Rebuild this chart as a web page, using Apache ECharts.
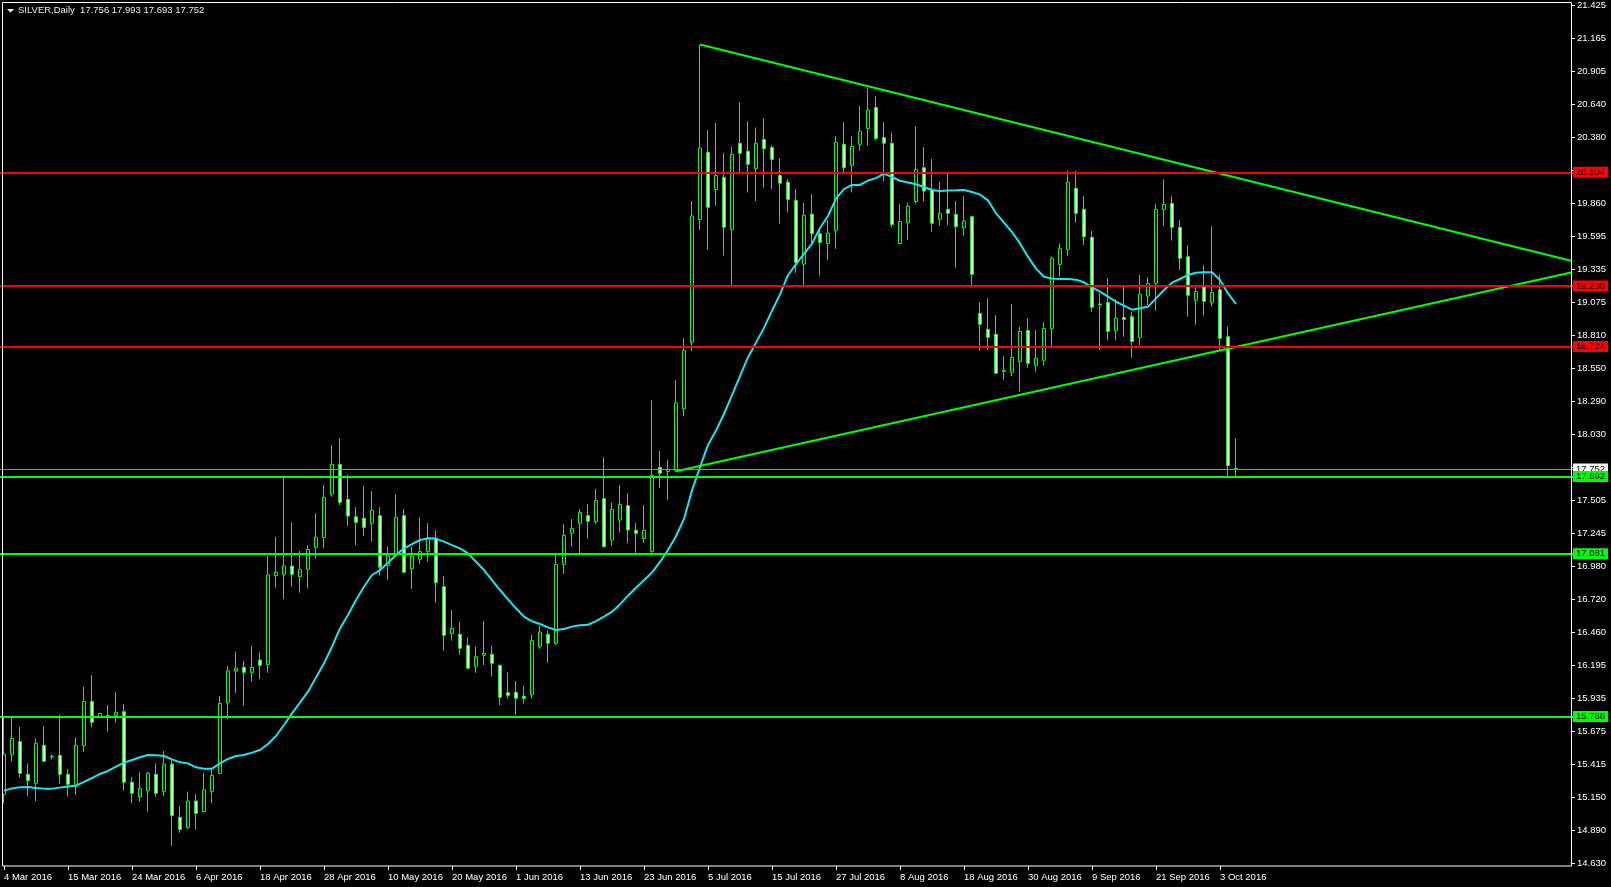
<!DOCTYPE html>
<html>
<head>
<meta charset="utf-8">
<script src="https://cdn.jsdelivr.net/npm/echarts@6/dist/echarts.min.js"></script>
<style>
html,body{margin:0;padding:0;background:#000;}
#chart{width:1611px;height:887px;}
</style>
</head>
<body>
<div id="chart"></div>
<script>
// ---- data (SILVER, Daily) ----
const dateLabels = ['4 Mar 2016','15 Mar 2016','24 Mar 2016','6 Apr 2016','18 Apr 2016','28 Apr 2016','10 May 2016','20 May 2016','1 Jun 2016','13 Jun 2016','23 Jun 2016','5 Jul 2016','15 Jul 2016','27 Jul 2016','8 Aug 2016','18 Aug 2016','30 Aug 2016','9 Sep 2016','21 Sep 2016','3 Oct 2016'];
const opens = [15.174,15.491,15.593,15.332,15.261,15.562,15.474,15.483,15.332,15.245,15.562,15.910,15.784,15.794,15.797,15.828,15.269,15.155,15.203,15.332,15.195,15.414,14.992,14.912,15.121,15.037,15.195,15.340,15.900,16.151,16.180,16.140,16.238,16.203,16.906,16.916,16.982,16.898,16.956,17.130,17.209,17.552,17.787,17.510,17.373,17.360,17.320,17.381,16.987,17.069,17.381,16.961,17.035,17.096,17.201,16.818,16.449,16.441,16.354,16.188,16.275,16.283,16.195,15.979,15.982,15.950,15.963,16.343,16.441,16.370,16.995,17.241,17.320,17.381,17.333,17.515,17.188,17.346,17.460,17.265,17.199,17.096,17.764,17.731,17.736,18.227,18.754,19.727,20.259,19.964,20.060,19.645,20.330,20.267,20.128,20.360,20.297,20.076,20.022,19.877,19.373,19.768,19.613,19.536,19.640,20.322,20.155,20.322,20.447,20.613,20.376,20.330,19.536,19.700,19.869,20.136,19.960,19.728,19.807,19.767,19.661,19.749,18.983,18.856,18.817,18.529,18.516,18.603,18.848,18.571,18.611,18.864,19.371,19.490,19.973,19.807,19.585,19.057,19.070,18.846,18.951,18.957,18.793,19.120,19.221,19.807,19.854,19.664,19.432,19.086,19.197,19.070,19.170,18.798,17.756];
const highs = [15.789,15.784,15.707,15.419,15.617,15.715,15.488,15.802,15.374,15.625,16.026,16.119,15.820,15.881,15.984,15.889,15.311,15.353,15.353,15.419,15.517,15.446,15.081,15.195,15.176,15.345,15.372,15.953,16.190,16.304,16.232,16.349,16.298,17.061,17.214,17.682,17.325,17.101,17.148,17.399,17.624,17.940,17.993,17.703,17.447,17.616,17.576,17.447,17.135,17.552,17.434,17.135,17.368,17.320,17.267,16.903,16.634,16.539,16.417,16.343,16.547,16.349,16.203,16.140,16.071,16.032,16.436,16.507,16.475,17.082,17.315,17.354,17.434,17.473,17.592,17.843,17.484,17.624,17.558,17.322,17.464,18.295,17.894,17.826,18.454,18.786,19.872,21.112,20.436,20.491,20.253,20.300,20.654,20.504,20.455,20.526,20.313,20.210,20.046,19.967,19.858,19.926,19.651,19.722,20.387,20.499,20.387,20.627,20.763,20.703,20.499,20.414,19.850,19.858,20.463,20.300,20.205,20.026,20.087,19.873,19.912,19.750,19.070,19.102,18.970,18.645,19.057,18.877,18.946,18.851,18.914,19.432,19.537,20.110,20.110,19.912,19.635,19.141,19.263,19.094,19.200,18.996,19.287,19.268,19.849,20.044,19.912,19.722,19.522,19.189,19.363,19.672,19.292,18.877,17.993];
const lows = [15.103,15.432,15.306,15.160,15.121,15.430,15.451,15.256,15.160,15.168,15.509,15.704,15.780,15.670,15.741,15.203,15.103,15.116,15.037,15.155,15.160,14.765,14.870,14.899,14.896,15.029,15.103,15.335,15.768,15.974,15.876,16.066,16.085,16.137,16.810,16.718,16.818,16.771,16.803,17.040,17.122,17.531,17.465,17.299,17.148,17.220,17.175,16.906,16.871,17.056,16.930,16.800,16.998,17.016,16.692,16.312,16.391,16.280,16.164,16.137,16.198,16.106,15.881,15.931,15.802,15.892,15.931,16.327,16.216,16.357,16.919,17.135,17.082,17.199,17.315,17.127,17.140,17.246,17.162,17.087,17.164,17.087,17.600,17.505,17.733,18.167,18.683,19.645,19.487,19.836,19.441,19.204,20.082,19.940,19.872,19.978,19.967,19.694,19.782,19.304,19.195,19.542,19.283,19.405,19.495,20.082,19.940,20.272,20.311,20.354,20.027,19.667,19.528,19.564,19.850,19.869,19.630,19.677,19.683,19.345,19.596,19.202,18.687,18.693,18.506,18.455,18.487,18.363,18.553,18.521,18.569,18.724,19.273,19.437,19.701,19.524,18.996,18.693,18.767,18.767,18.798,18.632,18.732,19.049,19.004,19.675,19.559,19.326,18.957,18.893,18.965,19.036,18.693,17.690,17.693];
const closes = [15.491,15.617,15.340,15.282,15.578,15.435,15.470,15.332,15.253,15.562,15.910,15.744,15.815,15.799,15.823,15.269,15.182,15.221,15.340,15.182,15.414,15.005,14.896,15.121,15.023,15.208,15.324,15.894,16.151,16.172,16.140,16.180,16.195,16.911,16.932,16.982,16.916,16.956,17.114,17.209,17.526,17.787,17.486,17.378,17.328,17.288,17.423,16.972,17.069,17.368,16.932,17.061,17.096,17.206,16.850,16.433,16.488,16.330,16.172,16.264,16.290,16.211,15.942,15.958,15.934,15.934,16.393,16.459,16.370,16.995,17.225,17.280,17.407,17.336,17.502,17.135,17.431,17.470,17.267,17.240,17.265,17.701,17.717,17.747,18.274,18.691,19.754,20.292,19.823,20.076,19.664,20.243,20.251,20.164,20.330,20.286,20.202,20.014,19.885,19.386,19.760,19.613,19.544,19.618,20.338,20.136,20.305,20.425,20.592,20.368,20.330,19.686,19.711,19.831,20.123,19.951,19.696,19.775,19.775,19.669,19.714,19.292,18.896,18.793,18.508,18.524,18.635,18.840,18.587,18.627,18.864,19.419,19.498,20.021,19.775,19.590,19.031,19.052,18.840,18.943,18.935,18.759,19.134,19.221,19.807,19.846,19.664,19.419,19.126,19.155,19.078,19.149,18.785,17.776,17.752];
const maValues = [15.203,15.221,15.229,15.232,15.224,15.219,15.219,15.227,15.235,15.242,15.272,15.303,15.335,15.359,15.393,15.425,15.446,15.467,15.485,15.483,15.477,15.451,15.427,15.419,15.388,15.377,15.377,15.419,15.454,15.477,15.485,15.504,15.525,15.573,15.636,15.723,15.815,15.900,15.987,16.100,16.211,16.343,16.488,16.594,16.713,16.818,16.911,16.950,17.008,17.069,17.122,17.156,17.188,17.201,17.199,17.175,17.148,17.122,17.082,17.016,16.950,16.871,16.792,16.718,16.647,16.581,16.544,16.523,16.496,16.475,16.483,16.502,16.512,16.517,16.546,16.581,16.620,16.678,16.747,16.810,16.870,16.930,17.014,17.109,17.218,17.355,17.581,17.764,17.941,18.055,18.186,18.336,18.486,18.636,18.751,18.868,19.004,19.133,19.285,19.373,19.454,19.536,19.659,19.754,19.891,19.967,20.000,20.000,20.035,20.054,20.090,20.063,20.033,20.019,20.005,19.984,19.960,19.952,19.955,19.957,19.960,19.944,19.923,19.878,19.775,19.701,19.627,19.537,19.432,19.337,19.273,19.258,19.255,19.255,19.250,19.229,19.189,19.155,19.115,19.075,19.044,19.012,19.023,19.036,19.102,19.168,19.226,19.255,19.287,19.305,19.308,19.308,19.247,19.141,19.057];
const tickLabels = ['14.630','14.890','15.150','15.415','15.675','15.935','16.195','16.460','16.720','16.980','17.245','17.505','','18.030','18.290','18.550','18.810','19.075','19.335','19.595','19.860','','20.380','20.640','20.905','21.165','21.425'];
const redLevels = [20.104, 19.200, 18.724];
const greenLevels = [17.692, 17.081, 15.788];
const bidPrice = 17.752;
const upperTrend = [[87, 21.112], [196, 19.397]];
const lowerTrend = [[84, 17.733], [196, 19.309]];
const totalSlots = 197;   // bars plus the empty chart shift on the right
const labelEvery = 8;

// ---- build ----
const AXFONT = '"Liberation Sans",Arial,sans-serif';
const AXSIZE = 9.5;
const categories = [];
for (let i = 0; i < totalSlots; i++) {
  categories.push(i % labelEvery === 0 && dateLabels[i / labelEvery] ? dateLabels[i / labelEvery] : '');
}
const ohlc = opens.map((o, i) => [o, closes[i], lows[i], highs[i]]);
const yMin = 14.630, yMax = 21.425;
const yStep = (yMax - yMin) / (tickLabels.length - 1);

function levelLine(v, color, txtColor, bg, width) {
  return {
    yAxis: v,
    lineStyle: { color: color, width: width, type: 'solid' },
    label: {
      show: true, position: 'end', distance: -3,
      formatter: v.toFixed(3), color: txtColor, backgroundColor: bg,
      fontFamily: AXFONT, fontSize: AXSIZE, lineHeight: 11, padding: [0, 3, 0, 3]
    }
  };
}

const chart = echarts.init(document.getElementById('chart'), null, { renderer: 'canvas' });
const option = {
  backgroundColor: '#000000',
  animation: false,
  grid: { left: 0, right: 35, top: 5, bottom: 24, containLabel: false },
  xAxis: {
    type: 'category', data: categories, boundaryGap: true, offset: 3,
    axisLine: { show: false },
    axisTick: { show: true, alignWithLabel: true, length: 4, lineStyle: { color: '#ffffff' },
      interval: (i) => i % labelEvery === 0 && i < labelEvery * dateLabels.length },
    axisLabel: { color: '#ffffff', fontFamily: AXFONT, fontSize: AXSIZE, align: 'left', margin: 6,
      interval: (i) => i % labelEvery === 0 },
    splitLine: { show: false }
  },
  yAxis: {
    type: 'value', position: 'right', min: yMin, max: yMax, interval: yStep, offset: -4, scale: true,
    axisLine: { show: false },
    axisTick: { show: true, length: 3, lineStyle: { color: '#ffffff' } },
    axisLabel: { color: '#ffffff', fontFamily: AXFONT, fontSize: AXSIZE, margin: 5, showMinLabel: true, showMaxLabel: true,
      formatter: (v) => tickLabels[Math.round((v - yMin) / yStep)] || '' },
    splitLine: { show: false }
  },
  series: [
    {
      type: 'line', name: 'bid', data: [], silent: true, z: 1,
      markLine: {
        silent: true, symbol: ['none', 'none'], animation: false,
        data: [levelLine(bidPrice, '#8c8c8c', '#000000', '#ffffff', 1)]
      }
    },
    {
      type: 'line', name: 'levels', data: [], silent: true, z: 1,
      markLine: {
        silent: true, symbol: ['none', 'none'], animation: false,
        data: redLevels.map(v => levelLine(v, '#ff0000', '#000000', '#ff0000', 2))
          .concat(greenLevels.map(v => levelLine(v, '#00ff00', '#000000', '#00ff00', 2)))
      }
    },
    {
      type: 'candlestick', name: 'SILVER', data: ohlc, barWidth: 3, z: 3,
      itemStyle: { color: '#000000', color0: '#ffffff', borderColor: '#00ff00', borderColor0: '#00ff00',
        borderColorDoji: '#00ff00', borderWidth: 1 }
    },
    {
      type: 'line', name: 'MA', data: maValues, showSymbol: false, symbol: 'none', z: 4,
      lineStyle: { color: '#1fe3f2', width: 2 }
    },
    {
      type: 'line', name: 'upper', data: upperTrend, showSymbol: false, symbol: 'none', z: 4,
      lineStyle: { color: '#00ff00', width: 2 }
    },
    {
      type: 'line', name: 'lower', data: lowerTrend, showSymbol: false, symbol: 'none', z: 4,
      lineStyle: { color: '#00ff00', width: 2 }
    }
  ],
  graphic: [
    { type: 'rect', z: 100, silent: true, shape: { x: 2.5, y: 2.5, width: 1569, height: 863.5 },
      style: { fill: null, stroke: '#ffffff', lineWidth: 1 } },
    { type: 'polygon', z: 100, silent: true, shape: { points: [[7, 9], [14, 9], [10.5, 12.5]] },
      style: { fill: '#ffffff' } },
    { type: 'text', z: 100, silent: true, x: 18, y: 5.5,
      style: { text: 'SILVER,Daily  ' + [opens, highs, lows, closes].map(a => a[a.length - 1].toFixed(3)).join(' '),
        fill: '#e8eef6', font: AXSIZE + 'px ' + AXFONT } }
  ]
};
chart.setOption(option);
</script>
</body>
</html>
